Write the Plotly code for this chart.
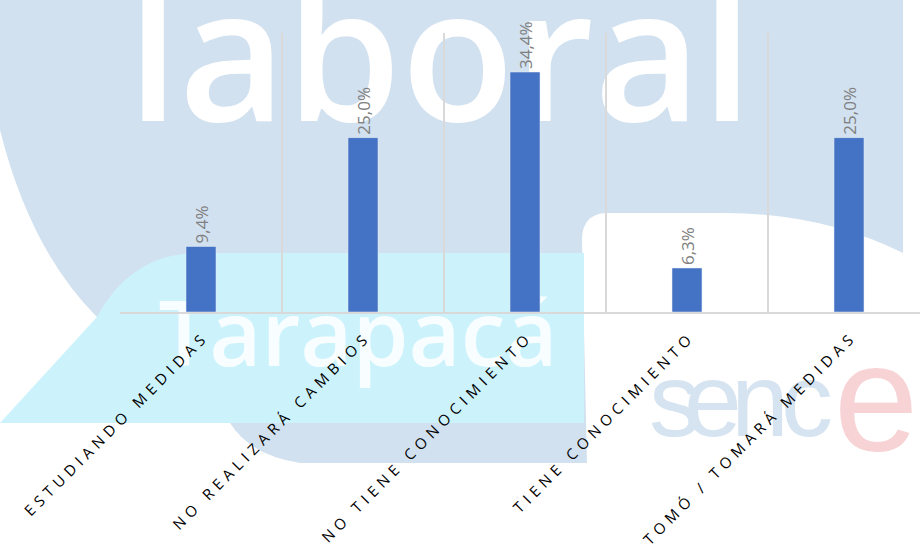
import plotly.graph_objects as go

# Datos del grafico
categorias = [
    "ESTUDIANDO MEDIDAS",
    "NO REALIZARÁ CAMBIOS",
    "NO TIENE CONOCIMIENTO",
    "TIENE CONOCIMIENTO",
    "TOMÓ / TOMARÁ MEDIDAS",
]
porcentajes = [9.4, 25.0, 34.4, 6.3, 25.0]

# Area de trazado en pixeles
L, R, T, B = 120, 920, 33, 312


def px(x):
    return (x - L) / (R - L)


def py(y):
    return (B - y) / (B - T)


def camino(puntos):
    """Construye un path SVG en coordenadas paper desde pixeles."""
    partes = []
    for p in puntos:
        if isinstance(p, str):
            partes.append(p)
        else:
            partes.append(f"{px(p[0]):.4f},{py(p[1]):.4f}")
    return " ".join(partes)


def texto_fondo(texto, cx, cy, w, h, size, color, family="Open Sans", weight=600):
    """Texto de marca de agua como etiqueta de una forma (queda detras de las barras)."""
    return dict(
        type="rect", xref="paper", yref="paper",
        x0=px(cx - w / 2), x1=px(cx + w / 2), y0=py(cy + h / 2), y1=py(cy - h / 2),
        fillcolor="rgba(0,0,0,0)", line_width=0, layer="below",
        label=dict(text=texto, font=dict(family=family, size=size, color=color, weight=weight),
                   textposition="middle center"),
    )


# Etiquetas con espaciado entre letras
ticktext = ["\u2009\u2009".join(c) for c in categorias]

fig = go.Figure()
fig.add_trace(go.Bar(
    x=categorias,
    y=porcentajes,
    marker_color="#4472C4",
    texttemplate="%{y:.1f}%",
    textposition="outside",
    textangle=-90,
    constraintext="none",
    textfont=dict(family="Open Sans", size=17, color="#808080"),
    cliponaxis=False,
))

# Fondo: marca de agua aproximada
fondo_azul = camino([
    "M", (0, 0), "L", (903, 0), "L", (903, 253),
    "Q", (820, 212), (720, 213), "L", (605, 213),
    "Q", (582, 215), (582, 240), "L", (587, 463), "L", (300, 463),
    "Q", (250, 455), (230, 423), "L", (97, 317),
    "Q", (30, 250), (0, 130), "Z",
])
fondo_cian = camino([
    "M", (0, 423), "L", (97, 317), "Q", (130, 255), (195, 253),
    "L", (584, 253), "L", (584, 423), "Z",
])

azul_sence = "#D6E4F1"
shapes = [
    dict(type="path", path=fondo_azul, xref="paper", yref="paper",
         fillcolor="#D2E1F0", line_width=0, layer="below"),
    dict(type="path", path=fondo_cian, xref="paper", yref="paper",
         fillcolor="#CCF3FC", line_width=0, layer="below"),
    texto_fondo("laboral", 440, 62, 660, 220, 185, "white"),
    texto_fondo("Tarapacá", 358, 337, 440, 120, 90, "rgba(255,255,255,0.85)"),
    texto_fondo("s", 675, 390, 60, 140, 104, azul_sence, "Liberation Sans", 400),
    texto_fondo("e", 713, 390, 60, 140, 104, azul_sence, "Liberation Sans", 400),
    texto_fondo("n", 760, 390, 60, 140, 104, azul_sence, "Liberation Sans", 400),
    texto_fondo("c", 807, 390, 60, 140, 104, azul_sence, "Liberation Sans", 400),
    texto_fondo("e", 876, 384, 100, 170, 152, "#F7D3D5", "Liberation Sans", 400),
]

fig.update_layout(
    width=920,
    height=553,
    margin=dict(l=L, r=920 - R, t=T, b=553 - B, autoexpand=False),
    paper_bgcolor="white",
    plot_bgcolor="rgba(0,0,0,0)",
    separators=",.",
    bargap=0.815,
    showlegend=False,
    shapes=shapes,
    xaxis=dict(
        type="category",
        range=[-0.5, -0.5 + (R - L) / 162],
        tickmode="array",
        tickvals=categorias,
        ticktext=ticktext,
        tickangle=-45,
        tickson="boundaries",
        ticks="",
        showgrid=True,
        gridcolor="#D9D9D9",
        gridwidth=1.5,
        showline=True,
        linecolor="#D9D9D9",
        linewidth=1.5,
        ticklabelstandoff=12,
        tickfont=dict(family="Open Sans", size=15, color="black"),
        automargin=False,
    ),
    yaxis=dict(
        range=[0, 40],
        showgrid=False,
        showticklabels=False,
        zeroline=False,
        ticks="",
        automargin=False,
    ),
)

fig.write_html(
    "out.html",
    config={"displayModeBar": False},
    post_script="document.body.style.margin='0';",
)
